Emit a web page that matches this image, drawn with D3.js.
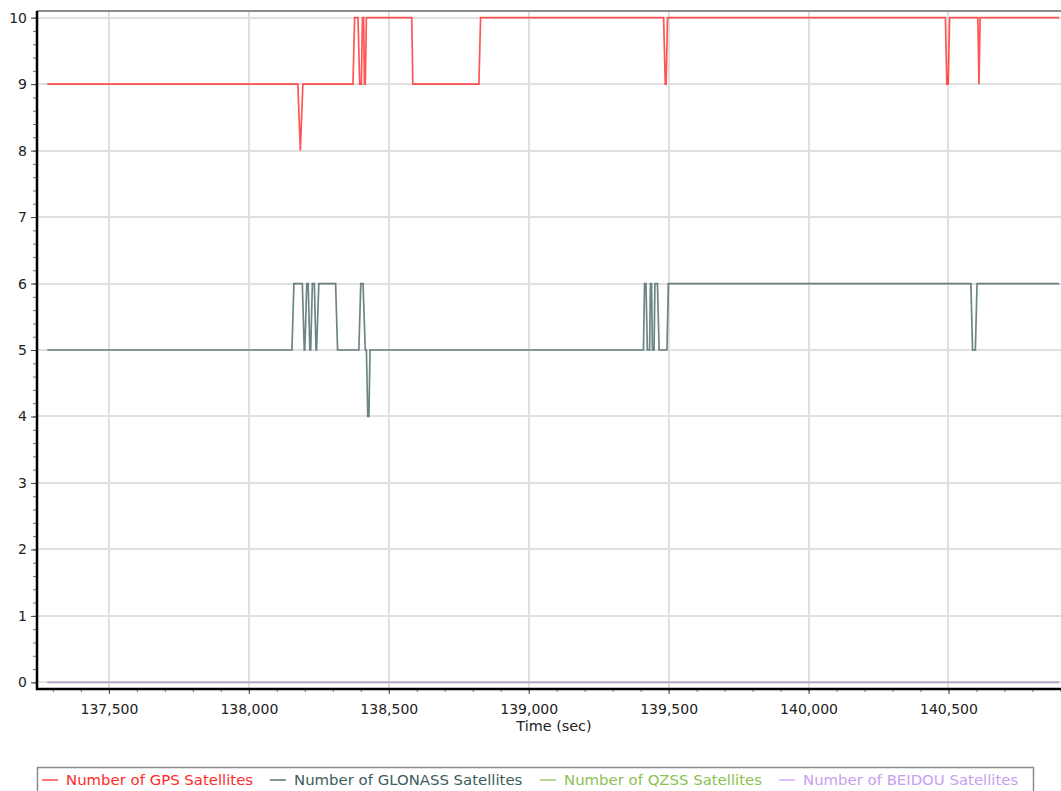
<!DOCTYPE html>
<html>
<head>
<meta charset="utf-8">
<script src="https://cdn.jsdelivr.net/npm/d3@7"></script>
<style>
  html, body { margin: 0; padding: 0; background: #fff; }
  svg { display: block; font-family: "DejaVu Sans", Verdana, sans-serif; }
</style>
</head>
<body>
<svg id="chart" width="1061" height="791"></svg>
<script>
// ---------------- DATA ----------------
const gpsTime = [137280, 138175, 138184, 138193, 138372, 138378, 138390, 138396, 138402, 138406, 138410, 138413, 138416, 138420, 138582, 138586, 138822, 138828, 139482, 139488, 139491, 139496, 140489, 140494, 140499, 140504, 140605, 140609, 140613, 140895];
const gpsValues = [9, 9, 8, 9, 9, 10, 10, 9, 9, 10, 10, 9, 9, 10, 10, 9, 9, 10, 10, 9, 9, 10, 10, 9, 9, 10, 10, 9, 10, 10];

const glonassTime = [137280, 138154, 138161, 138191, 138198, 138200, 138207, 138212, 138218, 138221, 138227, 138234, 138240, 138242, 138250, 138310, 138317, 138393, 138400, 138408, 138416, 138420, 138425, 138429, 138433, 139410, 139414, 139419, 139424, 139432, 139435, 139439, 139442, 139448, 139451, 139460, 139466, 139494, 139499, 140580, 140586, 140596, 140602, 140895];
const glonassValues = [5, 5, 6, 6, 5, 5, 6, 6, 5, 5, 6, 6, 5, 5, 6, 6, 5, 5, 6, 6, 5, 5, 4, 4, 5, 5, 6, 6, 5, 5, 6, 6, 5, 5, 6, 6, 5, 5, 6, 6, 5, 5, 6, 6];

const qzssTime = [137280, 140895];
const qzssValues = [0, 0];

const beidouTime = [137280, 140895];
const beidouValues = [0, 0];

const seriesNames = ["Number of GPS Satellites", "Number of GLONASS Satellites", "Number of QZSS Satellites", "Number of BEIDOU Satellites"];
const seriesColors = ["#ff2a2a", "#3d5c5c", "#8cc152", "#c89ef0"];

const xTickValues = [137500, 138000, 138500, 139000, 139500, 140000, 140500];
const yTickValues = [0, 1, 2, 3, 4, 5, 6, 7, 8, 9, 10];
const xTitle = "Time (sec)";

// ---------------- LAYOUT ----------------
const svg = d3.select("#chart");
const L = 37, T = 11, R = 1061, B = 689;

const x = d3.scaleLinear().domain([137243, 140902]).range([L, R]);
const y = d3.scaleLinear().domain([-0.1, 10.1]).range([B, T]);

// gridlines
const grid = svg.append("g");
grid.selectAll("line.v").data(xTickValues).join("line")
  .attr("x1", d => Math.round(x(d))).attr("x2", d => Math.round(x(d)))
  .attr("y1", T).attr("y2", B)
  .attr("stroke", "#e0e0e0").attr("stroke-width", 2);
grid.selectAll("line.h").data(yTickValues).join("line")
  .attr("x1", L).attr("x2", R)
  .attr("y1", d => Math.round(y(d))).attr("y2", d => Math.round(y(d)))
  .attr("stroke", "#e0e0e0").attr("stroke-width", 2);

// top border
svg.append("line").attr("x1", L).attr("x2", R).attr("y1", T).attr("y2", T)
  .attr("stroke", "#8c8c8c").attr("stroke-width", 2);

// series
const series = [
  [gpsTime, gpsValues],
  [glonassTime, glonassValues],
  [qzssTime, qzssValues],
  [beidouTime, beidouValues]
];
const line = d3.line().x(d => x(d[0])).y(d => y(d[1]));
const order = [2, 3, 1, 0];
order.forEach(i => {
  const pts = series[i][0].map((t, k) => [t, series[i][1][k]]);
  svg.append("path").datum(pts)
    .attr("d", line)
    .attr("fill", "none")
    .attr("stroke", seriesColors[i])
    .attr("stroke-width", 1.7)
    .attr("stroke-opacity", i === 1 ? 0.75 : 0.8)
    .attr("stroke-linejoin", "miter");
});

// x axis
const xMinor = d3.range(137300, 140901, 100);
const xAxisG = svg.append("g").attr("transform", `translate(0,${B})`);
xAxisG.call(d3.axisBottom(x).tickValues(xMinor).tickSize(3).tickFormat(""))
  .call(g => g.select(".domain").remove())
  .call(g => g.selectAll(".tick line").attr("stroke", "#777"));
const xMajorG = svg.append("g").attr("transform", `translate(0,${B})`);
xMajorG.call(d3.axisBottom(x).tickValues(xTickValues).tickSize(5).tickPadding(10).tickFormat(d3.format(",")))
  .call(g => g.select(".domain").remove())
  .call(g => g.selectAll(".tick line").attr("stroke", "#444"))
  .call(g => g.selectAll(".tick text").attr("font-size", 14).attr("fill", "#222")
    .attr("font-family", "'DejaVu Sans', Verdana, sans-serif"));
svg.append("line").attr("x1", L - 1).attr("x2", R).attr("y1", B).attr("y2", B)
  .attr("stroke", "#000").attr("stroke-width", 2.5);

// y axis
const yMinor = d3.range(0, 10.01, 0.2);
svg.append("g").attr("transform", `translate(${L},0)`)
  .call(d3.axisLeft(y).tickValues(yMinor).tickSize(4).tickFormat(""))
  .call(g => g.select(".domain").remove())
  .call(g => g.selectAll(".tick line").attr("stroke", "#777"));
svg.append("g").attr("transform", `translate(${L},0)`)
  .call(d3.axisLeft(y).tickValues(yTickValues).tickSize(6).tickPadding(4).tickFormat(d3.format("d")))
  .call(g => g.select(".domain").remove())
  .call(g => g.selectAll(".tick line").attr("stroke", "#444"))
  .call(g => g.selectAll(".tick text").attr("font-size", 14).attr("fill", "#222")
    .attr("font-family", "'DejaVu Sans', Verdana, sans-serif"));
svg.append("line").attr("x1", L).attr("x2", L).attr("y1", T).attr("y2", B + 1)
  .attr("stroke", "#000").attr("stroke-width", 2.5);

// x title
svg.append("text").attr("x", (L + R) / 2 + 5).attr("y", 731)
  .attr("text-anchor", "middle").attr("font-size", 14.4).attr("fill", "#222")
  .text(xTitle);

// legend
svg.append("rect").attr("x", 37.5).attr("y", 767.5).attr("width", 996).attr("height", 40)
  .attr("fill", "#fff").attr("stroke", "#8c8c8c").attr("stroke-width", 1.5);
const legendX = [42, 270, 540, 779];
seriesNames.forEach((name, i) => {
  const g = svg.append("g").attr("transform", `translate(${legendX[i]},0)`);
  g.append("line").attr("x1", 0).attr("x2", 16).attr("y1", 780).attr("y2", 780)
    .attr("stroke", seriesColors[i]).attr("stroke-width", 1.6).attr("stroke-opacity", 0.8);
  g.append("text").attr("x", 24).attr("y", 785).attr("font-size", 14.9)
    .attr("fill", seriesColors[i]).text(name);
});
</script>
</body>
</html>
